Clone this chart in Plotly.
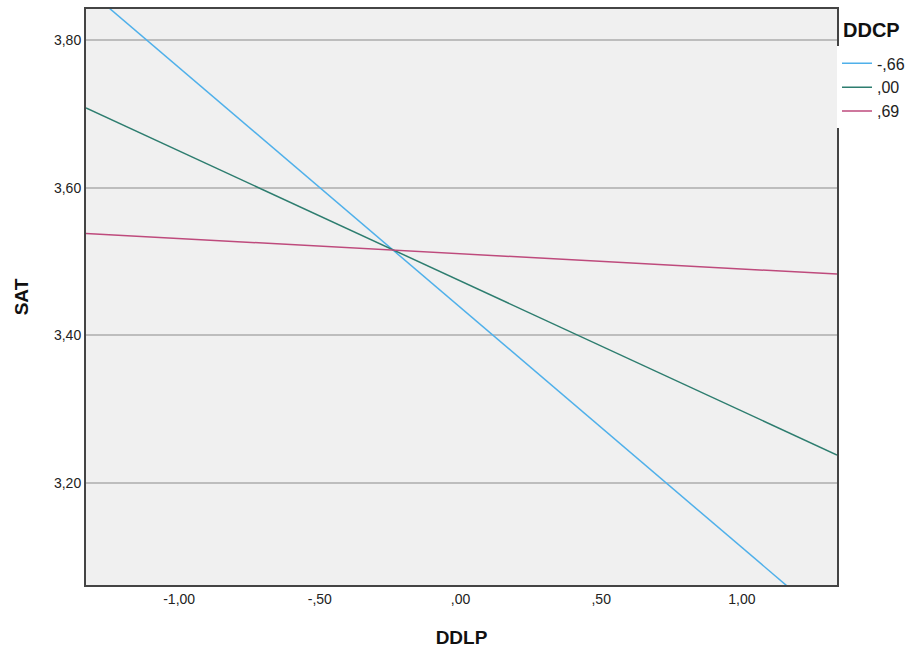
import plotly.graph_objects as go

x_range = [-1.331, 1.338]
series_names = ["-,66", ",00", ",69"]
series_x = [[-1.331, 1.338], [-1.331, 1.338], [-1.331, 1.338]]
series_y = [[3.870, 3.003], [3.708, 3.238], [3.538, 3.483]]
colors = ["#4FB0EA", "#2D7D6F", "#BE4A7C"]
legend_title = "DDCP"

x_tickvals = [-1.0, -0.5, 0.0, 0.5, 1.0]
x_ticktext = ["-1,00", "-,50", ",00", ",50", "1,00"]
y_tickvals = [3.2, 3.4, 3.6, 3.8]
y_ticktext = ["3,20", "3,40", "3,60", "3,80"]

fig = go.Figure()
for name, xs, ys, c in zip(series_names, series_x, series_y, colors):
    fig.add_trace(go.Scatter(x=xs, y=ys, mode="lines", name=name,
                             line=dict(color=c, width=1.5)))

font = "Liberation Sans, Arial, sans-serif"
fig.update_layout(
    width=912, height=653,
    margin=dict(l=86, r=75, t=9, b=68, autoexpand=False),
    paper_bgcolor="white",
    plot_bgcolor="#F0F0F0",
    font=dict(family=font, size=14, color="#222"),
    legend=dict(
        x=1.0, y=0.935, xanchor="left", yanchor="top",
        bgcolor="white", font=dict(size=16, color="#222"),
        tracegroupgap=0, itemwidth=30,
    ),
    xaxis=dict(
        range=x_range, tickvals=x_tickvals, ticktext=x_ticktext,
        showgrid=False, zeroline=False, showline=True, mirror=True,
        linecolor="#444", linewidth=2, ticks="",
        title=dict(text="<b>DDLP</b>", font=dict(size=19, color="#111"), standoff=25),
    ),
    yaxis=dict(
        range=[3.062, 3.842], tickvals=y_tickvals, ticktext=y_ticktext,
        showgrid=True, gridcolor="#BDBDBD", gridwidth=1.5,
        zeroline=False, showline=True, mirror=True,
        linecolor="#444", linewidth=2, ticks="",
        title=dict(text="<b>SAT</b>", font=dict(size=19, color="#111"), standoff=20),
    ),
    annotations=[dict(
        text="<b>" + legend_title + "</b>", xref="paper", yref="paper",
        x=1.0, y=1.0, xanchor="left", yanchor="top", xshift=4, yshift=-8,
        showarrow=False, font=dict(size=20, color="#111"),
    )],
)
fig.write_html("out.html", config={"displayModeBar": False},
               post_script="document.body.style.margin='0';")
